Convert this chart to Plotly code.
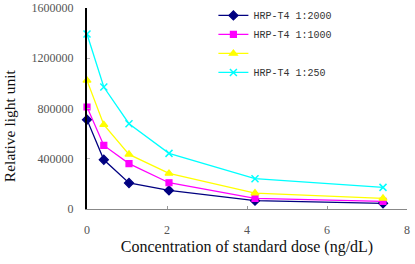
import plotly.graph_objects as go

conc = [0, 0.42, 1.05, 2.05, 4.2, 7.4]
rlu_2000 = [711000, 392000, 207000, 148000, 66000, 45000]
rlu_1000 = [812000, 506000, 361000, 209000, 85000, 61000]
rlu_500 = [1024000, 671000, 435000, 283000, 127000, 85000]
rlu_250 = [1393000, 971000, 679000, 443000, 241000, 172000]
names = ["HRP-T4 1:2000", "HRP-T4 1:1000", " ", "HRP-T4 1:250"]
y_ticks = [0, 400000, 800000, 1200000, 1600000]
x_ticks = [0, 2, 4, 6, 8]
y_title = "Relative light unit"
x_title = "Concentration of standard dose (ng/dL)"

series = [rlu_2000, rlu_1000, rlu_500, rlu_250]
colors = ["#000080", "#FF00FF", "#FFFF00", "#00FFFF"]
symbols = ["diamond", "square", "triangle-up", "x-thin"]
sizes = [7, 6, 7, 7]

fig = go.Figure()
for ys, nm, c, s, sz in zip(series, names, colors, symbols, sizes):
    fig.add_trace(go.Scatter(
        x=conc, y=ys, name=nm, mode="lines+markers",
        line=dict(color=c, width=1.3),
        marker=dict(symbol=s, color=c, size=sz, line=dict(color=c, width=1.2 if s != "x-thin" else 1.5)),
        cliponaxis=False,
    ))

fig.update_layout(
    width=415, height=264,
    margin=dict(l=87, r=8, t=8, b=55, autoexpand=False),
    paper_bgcolor="white", plot_bgcolor="white",
    font=dict(family="Liberation Serif", color="#222"),
    showlegend=True,
    legend=dict(
        x=0.395, y=1.035, xanchor="left", yanchor="top",
        font=dict(family="Liberation Mono", size=10, color="#333"),
        bgcolor="rgba(0,0,0,0)", tracegroupgap=0, itemwidth=30,
    ),
    annotations=[dict(
        text=y_title, textangle=-90, xref="paper", yref="paper",
        x=-0.242, y=0.415, xanchor="center", yanchor="middle", showarrow=False,
        font=dict(size=15.5, color="#111", family="Liberation Serif"),
    )],
)
fig.update_xaxes(
    range=[0, 8], tickvals=x_ticks, showgrid=False, zeroline=False,
    showline=True, linecolor="#888", linewidth=1, automargin=False,
    ticks="inside", ticklen=3, tickcolor="#999",
    tickfont=dict(size=12, color="#555"), ticklabelstandoff=10,
    title=dict(text=x_title, font=dict(size=16, color="#111"), standoff=4),
)
fig.update_yaxes(
    range=[0, 1600000], tickvals=y_ticks, showgrid=False, zeroline=False,
    showline=True, linecolor="black", linewidth=2, automargin=False,
    ticks="inside", ticklen=3, tickcolor="#bbb", tickwidth=1,
    tickfont=dict(size=12, color="#555"), ticklabelstandoff=9,
    tickformat="d",
)

fig.write_html("out.html", config={"displayModeBar": False},
               post_script="document.body.style.margin='0';")
